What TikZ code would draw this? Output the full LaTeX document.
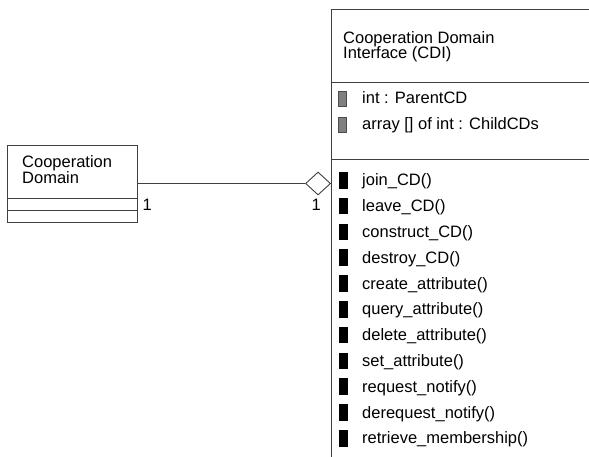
\documentclass[tikz,border=0pt]{standalone}
\usepackage{fontspec}
\setmainfont{Liberation Sans}
\usetikzlibrary{shapes.geometric}
\begin{document}
\begin{tikzpicture}[x=1pt,y=-1pt,
  line/.style={draw=black!75, line width=0.9pt},
  lbl/.style={font=\fontsize{16.5}{16}\selectfont, inner sep=0pt, anchor=base west, text=black},
  pubop/.style={fill=black, draw=black, line width=0.4pt, minimum width=7.5pt, minimum height=15.5pt, inner sep=0pt},
  privat/.style={fill=black!50, draw=black!70, line width=0.6pt, minimum width=7.5pt, minimum height=15pt, inner sep=0pt},
]
\clip (0,0) rectangle (589,457);
\fill[white] (0,0) rectangle (589,457);
% small class
\node[line, rectangle, minimum width=130pt, minimum height=77pt, inner sep=0pt] (cd) at (72,183.5) {};
\draw[line] (cd.west |- 0,198) -- (cd.east |- 0,198);
\draw[line] (cd.west |- 0,210) -- (cd.east |- 0,210);
\node[lbl] (cdnameA) at (22,168) {Cooperation};
\node[lbl] (cdnameB) at (22,184) {Domain};
% big class
\node[line, rectangle, anchor=north west, minimum width=320pt, minimum height=520pt, inner sep=0pt] (cdi) at (331,9) {};
\draw[line] (cdi.west |- 0,82) -- (cdi.east |- 0,82);
\draw[line] (cdi.west |- 0,159) -- (cdi.east |- 0,159);
\node[lbl] (cdinameA) at (343,43.5) {Cooperation Domain};
\node[lbl] (cdinameB) at (343,59) {Interface (CDI)};
% attributes
\node[privat] (pa1) at (342.5,98.5) {};
\node[lbl] (ta1) at (362,104) {int : ParentCD};
\node[privat] (pa2) at (342.5,124.5) {};
\node[lbl] (ta2) at (362,130) {array [] of int : ChildCDs};
% operations
\foreach \t [count=\i from 0] in {join\_CD(), leave\_CD(), construct\_CD(), destroy\_CD(), create\_attribute(), query\_attribute(), delete\_attribute(), set\_attribute(), request\_notify(), derequest\_notify(), retrieve\_membership()}{
  \node[pubop] (op\i) at (343, 180+25.8*\i) {};
  \node[lbl] (to\i) at (362, 185.8+25.8*\i) {\t};
}
% aggregation
\node[diamond, line, fill=white, minimum width=25pt, minimum height=23pt, inner sep=0pt, anchor=east] (agg) at (cdi.west |- cd.east) {};
\draw[line] (cd.east) -- (agg.west);
\node[lbl] (mulA) at (142.5,211) {1};
\node[lbl] (mulB) at (311.5,211) {1};
\end{tikzpicture}
\end{document}
